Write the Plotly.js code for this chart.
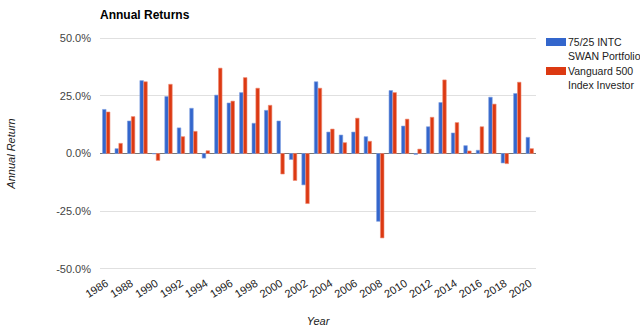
<!DOCTYPE html>
<html>
<head>
<meta charset="utf-8">
<script src="https://cdn.plot.ly/plotly-3.0.1.min.js"></script>
<style>html,body{margin:0;padding:0;background:#fff}#chart{width:640px;height:333px}</style>
</head>
<body>
<div id="chart"></div>
<script>
const years = ["1986","1987","1988","1989","1990","1991","1992","1993","1994","1995","1996","1997","1998","1999","2000","2001","2002","2003","2004","2005","2006","2007","2008","2009","2010","2011","2012","2013","2014","2015","2016","2017","2018","2019","2020"];
const swan = [19.1,2.1,14.1,31.6,-0.2,24.7,11.1,19.6,-2.0,25.3,21.9,26.4,13.1,18.7,14.1,-2.6,-13.6,31.1,9.3,8.0,9.3,7.3,-29.4,27.3,11.9,-0.4,11.6,22.1,8.9,3.4,1.4,24.4,-4.1,26.0,7.0];
const vfinx = [18.0,4.4,16.0,31.1,-3.0,30.0,7.3,9.6,1.2,37.0,22.7,32.9,28.3,20.9,-8.9,-11.7,-21.7,28.3,10.6,4.7,15.3,5.3,-36.6,26.4,14.9,1.9,15.7,31.9,13.4,1.1,11.6,21.4,-4.4,30.9,2.1];
const seriesNames = ["75/25 INTC<br>SWAN Portfolio", "Vanguard 500<br>Index Investor"];
const seriesColors = ["#3366CC", "#DC3912"];
const tickYears = years.filter((y, i) => i % 2 === 0);
const yTicks = [-50, -25, 0, 25, 50];
const yTickText = ["-50.0%", "-25.0%", "0.0%", "25.0%", "50.0%"];

const W = 640, H = 333, M = {l: 100, r: 104, t: 37, b: 63};
const pw = W - M.l - M.r, ph = H - M.t - M.b;
const px = x => (x - M.l) / pw;
const py = y => (H - M.b - y) / ph;

const traces = [
  {type: 'bar', name: seriesNames[0], x: years, y: swan,
   marker: {color: seriesColors[0], line: {color: '#7f9fe0', width: 0.6}}},
  {type: 'bar', name: seriesNames[1], x: years, y: vfinx,
   marker: {color: seriesColors[1], line: {color: '#ee8a74', width: 0.6}}}
];

// manual legend (to the right of the plot, like the reference)
const legendShapes = [], legendAnn = [];
const legTop = [38, 67];
for (let i = 0; i < 2; i++) {
  legendShapes.push({type: 'rect', xref: 'paper', yref: 'paper',
    x0: px(546), x1: px(566), y0: py(legTop[i]), y1: py(legTop[i] + 8),
    fillcolor: seriesColors[i], line: {width: 0}});
  legendAnn.push({xref: 'paper', yref: 'paper', x: px(566), y: py(legTop[i] - 4),
    xanchor: 'left', yanchor: 'top', align: 'left', showarrow: false,
    text: seriesNames[i], font: {size: 10.5, color: '#222'}});
}

const layout = {
  width: W, height: H,
  margin: M,
  paper_bgcolor: '#fff', plot_bgcolor: '#fff',
  font: {family: 'Arial, "Liberation Sans", sans-serif', size: 11, color: '#444'},
  title: {text: '<b>Annual Returns</b>', x: 100/640, xanchor: 'left', y: 0.955, yanchor: 'middle',
          font: {size: 12, color: '#000'}},
  barmode: 'group', bargap: 0.38, bargroupgap: 0.08,
  showlegend: false,
  shapes: legendShapes,
  annotations: legendAnn,
  xaxis: {type: 'category', tickmode: 'array', tickvals: tickYears, ticktext: tickYears,
          tickangle: -32, showgrid: false, zeroline: false, showline: false, ticks: '',
          ticklabelstandoff: 4, automargin: false,
          tickfont: {size: 11, color: '#222'},
          title: {text: '<i>Year</i>', font: {size: 11, color: '#222'}, standoff: 18}},
  yaxis: {range: [-50.5, 50.5], tickmode: 'array', tickvals: yTicks, ticktext: yTickText,
          showgrid: true, gridcolor: '#e0e0e0', gridwidth: 1, automargin: false,
          zeroline: true, zerolinecolor: '#777', zerolinewidth: 1,
          tickfont: {size: 11, color: '#444'}, ticks: '', ticklen: 0, ticklabelstandoff: 8,
          title: {text: '<i>Annual Return</i>', font: {size: 11, color: '#222'}, standoff: 38}}
};
Plotly.newPlot('chart', traces, layout, {displayModeBar: false, staticPlot: true});
</script>
</body>
</html>
